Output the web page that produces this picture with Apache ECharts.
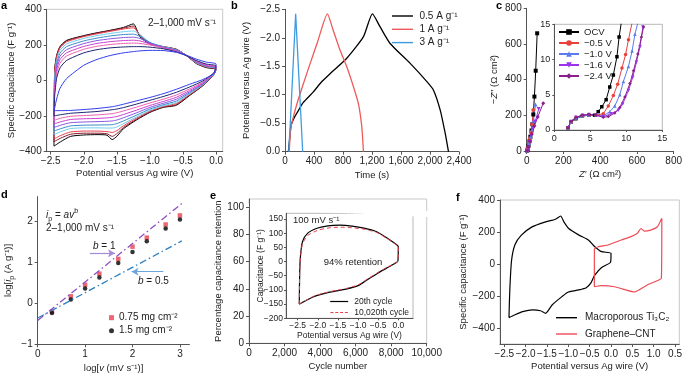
<!DOCTYPE html>
<html><head><meta charset="utf-8">
<script src="https://cdn.jsdelivr.net/npm/echarts@6/dist/echarts.min.js"></script>
<style>html,body{margin:0;padding:0;background:#fff}#c{width:685px;height:375px}</style>
</head><body><div id="c"></div>
<script>
const FONT = '"Liberation Sans", Arial, Helvetica, sans-serif';
const M = '\u2212';

// ---------- panel a : CV curves, 2 - 1000 mV/s ----------
const aPotUp = [-2.45, -2.44, -2.41, -2.36, -2.26, -2.0, -1.8, -1.6, -1.4, -1.25, -1.15, -1.0, -0.8, -0.6, -0.45, -0.3, -0.15, 0];
const aPotDown = [0, -0.03, -0.2, -0.4, -0.6, -0.8, -1.0, -1.2, -1.4, -1.5, -1.57, -1.65, -1.8, -2.0, -2.2, -2.35, -2.45];
const aCapUp = [
  [-370, 60, 140, 190, 225, 252, 268, 282, 298, 318, 245, 205, 190, 175, 140, 95, 72, 62],
  [-345, 55, 138, 188, 222, 250, 266, 280, 294, 306, 250, 207, 190, 175, 141, 97, 74, 64],
  [-330, 40, 130, 182, 217, 246, 262, 276, 289, 296, 256, 210, 190, 174, 141, 98, 76, 66],
  [-305, 15, 112, 168, 205, 236, 252, 264, 274, 278, 258, 213, 190, 172, 141, 100, 78, 68],
  [-285, -5, 95, 152, 190, 222, 238, 250, 258, 260, 248, 213, 188, 170, 141, 102, 80, 70],
  [-265, -25, 78, 135, 173, 207, 224, 234, 241, 243, 236, 210, 186, 168, 141, 105, 82, 72],
  [-245, -45, 58, 116, 155, 191, 208, 218, 224, 226, 222, 205, 184, 165, 140, 108, 85, 75],
  [-225, -65, 38, 96, 137, 175, 192, 202, 208, 210, 208, 199, 182, 163, 140, 110, 88, 78],
  [-200, -90, 12, 70, 112, 155, 173, 183, 188, 190, 190, 187, 178, 160, 139, 112, 92, 82],
  [-170, -155, -105, -45, 10, 85, 118, 140, 155, 162, 166, 169, 168, 158, 142, 120, 103, 92]
];
const aCapDown = [
  [62, 35, -30, -85, -140, -152, -180, -222, -272, -315, -333, -308, -305, -307, -315, -345, -370],
  [64, 36, -28, -82, -136, -150, -177, -218, -265, -300, -315, -300, -297, -297, -303, -325, -345],
  [66, 37, -26, -79, -130, -147, -173, -212, -255, -283, -293, -288, -285, -285, -290, -310, -330],
  [68, 38, -24, -75, -124, -143, -168, -205, -243, -262, -268, -268, -267, -267, -271, -289, -305],
  [70, 39, -21, -70, -116, -137, -161, -195, -228, -243, -249, -250, -251, -252, -256, -272, -285],
  [72, 40, -18, -64, -106, -129, -152, -182, -210, -223, -228, -230, -232, -234, -238, -252, -265],
  [75, 41, -14, -57, -95, -119, -141, -167, -192, -203, -208, -211, -214, -216, -220, -233, -245],
  [78, 42, -10, -48, -82, -106, -127, -150, -172, -182, -187, -190, -194, -198, -202, -213, -225],
  [82, 44, -3, -37, -67, -91, -112, -133, -153, -161, -165, -169, -175, -180, -185, -193, -200],
  [92, 40, 5, -22, -50, -75, -96, -115, -134, -143, -148, -152, -158, -164, -169, -170, -170]
];
const aColors = ['#000000', '#8b1a2b', '#e8414f', '#6fcff0', '#3a8cc8', '#8a55e6', '#cc3fcc', '#f060b0', '#1c2570', '#2f3cf0'];
const aXTicks = [-2.5, -2, -1.5, -1, -0.5, 0];
const aYTicks = [-400, -200, 0, 200, 400];

// ---------- panel b : GCD ----------
const bNames = ['0.5 A g\u207B\u00B9', '1 A g\u207B\u00B9', '3 A g\u207B\u00B9'];
const bBlackT = [46, 70, 83, 120, 161, 250, 391, 500, 622, 852, 1082, 1206, 1312, 1450, 1727, 1957, 2048, 2141, 2210, 2255];
const bBlackV = [0, -0.3, -0.46, -0.58, -0.67, -0.86, -1.05, -1.22, -1.37, -1.64, -2.02, -2.42, -2.19, -1.90, -1.55, -1.23, -1.08, -0.73, -0.32, 0];
const bRedT = [58, 72, 85, 160, 250, 350, 450, 585, 660, 760, 852, 944, 1013, 1059, 1082];
const bRedV = [0, -0.3, -0.45, -0.82, -1.18, -1.56, -1.93, -2.42, -2.15, -1.78, -1.49, -1.14, -0.84, -0.44, 0];
const bBlueT = [52, 62, 70, 147, 244];
const bBlueV = [0, -0.25, -0.42, -2.42, 0];
const bXTicks = [0, 400, 800, 1200, 1600, 2000, 2400];
const bYTicks = [-2.5, -2, -1.5, -1, -0.5, 0];

// ---------- panel c : Nyquist ----------
const cNames = ['OCV', M + '0.5 V', M + '1.0 V', M + '1.6 V', M + '2.4 V'];
const cColors = ['#000000', '#e8413c', '#5b7bec', '#9933ee', '#8a1f8a'];
const cSymbols = ['rect', 'circle', 'triangle', 'path://M0,0 L10,0 L5,9 Z', 'diamond'];
const cMain = [
  [[3, 2], [6, 12], [10, 30], [15, 55], [20, 80], [26, 115], [31, 150], [36, 205], [42, 305], [49, 450], [57, 660]],
  [[3, 2], [7, 15], [12, 40], [18, 70], [24, 105], [30, 150], [36, 230]],
  [[3, 2], [8, 18], [14, 45], [21, 80], [29, 120], [37, 170], [48, 260]],
  [[3, 2], [9, 20], [16, 50], [25, 85], [35, 125], [47, 165], [65, 235]],
  [[3, 2], [10, 22], [18, 55], [28, 95], [42, 140], [60, 190], [90, 268]]
];
const cInset = [
  [[1.9, 0.3], [2.3, 1.1], [3.0, 1.6], [3.9, 2.0], [4.8, 2.1], [5.6, 2.1], [6.1, 2.6], [6.6, 3.3], [7.2, 4.3], [7.7, 6.1], [8.2, 7.8], [8.7, 10.4], [9.0, 13.2], [9.3, 15.2]],
  [[1.9, 0.3], [2.3, 1.1], [3.0, 1.7], [3.9, 2.0], [4.8, 2.1], [5.8, 2.1], [6.8, 2.3], [7.5, 3.4], [8.2, 4.9], [8.8, 6.5], [9.4, 8.8], [9.9, 10.7], [10.3, 12.8], [10.8, 15.2]],
  [[1.9, 0.3], [2.3, 1.1], [3.0, 1.7], [3.9, 2.0], [4.8, 2.1], [5.8, 2.1], [6.8, 2.0], [7.7, 2.6], [8.4, 3.4], [9.1, 5.0], [9.6, 6.9], [10.3, 9.0], [10.8, 11.2], [11.2, 13.6], [11.6, 15.2]],
  [[1.9, 0.3], [2.3, 1.2], [3.0, 1.8], [3.9, 2.1], [4.8, 2.2], [5.8, 2.1], [6.8, 1.9], [7.9, 2.3], [8.9, 2.8], [9.5, 3.7], [10.3, 5.6], [10.9, 7.5], [11.4, 9.6], [11.9, 11.8], [12.3, 14.6]],
  [[1.9, 0.3], [2.3, 1.2], [3.0, 1.8], [3.9, 2.1], [4.8, 2.2], [5.8, 2.1], [6.8, 1.8], [7.5, 1.9], [8.4, 2.4], [9.1, 3.2], [9.8, 4.7], [10.5, 6.6], [11.0, 8.4], [11.6, 10.8], [12.1, 13.2], [12.4, 14.6]]
];
const cTicks = [0, 200, 400, 600, 800];
const ciTicks = [0, 5, 10, 15];

// ---------- panel d : b-value ----------
const dNames = ['0.75 mg cm\u207B\u00B2', '1.5 mg cm\u207B\u00B2'];
const dLogV = [0.301, 0.699, 1.0, 1.301, 1.699, 2.0, 2.301, 2.699, 3.0];
const dRed = [-0.20, 0.17, 0.45, 0.72, 1.08, 1.38, 1.60, 1.92, 2.14];
const dBlack = [-0.24, 0.09, 0.36, 0.63, 0.98, 1.25, 1.51, 1.82, 2.04];
const dFitB1 = [[0, -0.42], [3.07, 2.46]];
const dFitB05 = [[0, -0.36], [3.04, 1.52]];
const dXTicks = [0, 1, 2, 3];
const dYTicks = [-1, 0, 1, 2];

// ---------- panel e : cycling ----------
const eCycles = [0, 200, 400, 600, 800, 1000, 1200, 1400, 1600, 1800, 2000, 2200, 2400, 2600, 2800, 3000, 3200, 3400, 3600, 3800, 4000, 4200, 4400, 4600, 4800, 5000, 5200, 5400, 5600, 5800, 6000, 6200, 6400, 6600, 6800, 7000, 7200, 7400, 7600, 7800, 8000, 8200, 8400, 8600, 8800, 9000, 9200, 9400, 9600, 9800, 10000];
const eRetention = [100.3, 100.2, 100.1, 100.0, 99.9, 99.8, 99.8, 99.7, 99.6, 99.5, 99.4, 99.3, 99.2, 99.1, 99.0, 98.9, 98.8, 98.7, 98.6, 98.5, 98.4, 98.3, 98.2, 98.1, 98.0, 97.9, 97.8, 97.7, 97.6, 97.5, 97.4, 97.3, 97.2, 97.0, 96.9, 96.8, 96.7, 96.5, 96.4, 96.3, 96.2, 96.0, 95.9, 95.8, 95.6, 95.5, 95.4, 95.3, 95.2, 95.1, 95.0];
const eXTicks = [0, 2000, 4000, 6000, 8000, 10000];
const eYTicks = [0, 20, 40, 60, 80, 100];
const eiNames = ['20th cycle', '10,020th cycle'];
const eiPotUp = [-2.46, -2.45, -2.43, -2.38, -2.25, -2.0, -1.75, -1.45, -1.15, -0.85, -0.55, -0.3, -0.1, 0];
const eiPotDown = [0, -0.01, -0.1, -0.3, -0.5, -0.75, -1.0, -1.3, -1.7, -2.1, -2.46];
const eiCapUp20 = [-150, -40, 20, 70, 100, 118, 126, 128, 125, 118, 106, 85, 65, 52];
const eiCapDown20 = [52, 2, -8, -24, -40, -62, -85, -97, -108, -124, -150];
const eiCapUp10k = [-150, -40, 15, 62, 92, 110, 118, 121, 119, 114, 103, 83, 64, 52];
const eiCapDown10k = [52, 2, -7, -22, -38, -60, -82, -95, -106, -122, -150];
const eiXTicks = [-2.5, -2, -1.5, -1, -0.5, 0];
const eiYTicks = [-200, -150, -100, -50, 0, 50, 100, 150];

// ---------- panel f : comparison ----------
const fNames = ['Macroporous Ti\u2083C\u2082', 'Graphene\u2013CNT'];
const fTiV = [-2.39, -2.37, -2.33, -2.25, -2.1, -1.85, -1.55, -1.3, -1.18, -1.1, -0.99, -0.76, -0.53, -0.38, -0.22, 0, -0.01, -0.22, -0.38, -0.47, -0.58, -0.76, -1.0, -1.15, -1.38, -1.53, -1.65, -1.84, -2.07, -2.26, -2.39];
const fTiC = [-335, -160, 20, 120, 180, 232, 262, 280, 300, 262, 222, 182, 150, 108, 77, 67, 12, -22, -70, -118, -148, -162, -175, -204, -256, -308, -292, -287, -298, -319, -335];
const fCntV = [-0.39, -0.39, -0.3, -0.07, 0.24, 0.47, 0.62, 0.7, 0.78, 0.93, 1.09, 1.16, 1.19, 1.18, 1.12, 0.85, 0.55, 0.4, 0.08, -0.22, -0.39];
const fCntC = [-142, 92, 108, 119, 150, 171, 192, 222, 205, 212, 233, 270, 285, -89, -100, -131, -175, -166, -142, -135, -142];
const fXTicks = [-2.5, -2, -1.5, -1, -0.5, 0, 0.5, 1, 1.5];
const fXLabels = [M + '2.5', M + '2.0', M + '1.5', M + '1.0', M + '0.5', '0.0', '0.5', '1.0', '0.5'];
const fYTicks = [-400, -200, 0, 200, 400];

// ---------- helpers ----------
function num(v, d) {
  const s = d == null ? Math.abs(v).toLocaleString('en-US') : Math.abs(v).toFixed(d);
  return (v < 0 ? M : '') + s;
}
function rich(fs) {
  const base = {fontSize: fs, fontFamily: FONT, color: '#222', lineHeight: fs * 1.5};
  return {
    n: base,
    i: Object.assign({}, base, {fontStyle: 'italic'}),
    s: {fontSize: fs * 0.72, fontFamily: FONT, color: '#222', lineHeight: fs * 0.6, verticalAlign: 'bottom'},
    u: {fontSize: fs * 0.72, fontFamily: FONT, color: '#222', lineHeight: fs * 0.6, verticalAlign: 'top'}
  };
}
function axis(o) {
  const fs = o.fs || 10;
  const nfs = o.nfs || 9.5;
  return {
    type: 'value', gridIndex: o.g, min: o.min, max: o.max, inverse: !!o.inverse, z: o.z || 0,
    axisLine: {show: true, onZero: false, lineStyle: {color: '#555', width: 1}},
    axisTick: {show: true, length: o.tl || 3, customValues: o.ticks, lineStyle: {color: '#555'}},
    axisLabel: {customValues: o.ticks, formatter: o.fmt, fontSize: fs, color: '#222', margin: o.margin == null ? 5 : o.margin,
      fontFamily: FONT, hideOverlap: false, showMinLabel: true, showMaxLabel: true},
    splitLine: {show: false},
    name: o.name || '', nameLocation: 'middle', nameGap: o.gap || 20, nameRotate: o.rot, nameMoveOverlap: false,
    nameTextStyle: {fontSize: nfs, color: '#222', fontFamily: FONT, rich: rich(nfs)}
  };
}
const lineIcon = 'path://M0,0h30v2h-30z';
const dashIcon = 'path://M0,0h5v2h-5z M8,0h5v2h-5z M16,0h5v2h-5z M24,0h5v2h-5z';

// ---------- series ----------
const series = [];
aCapUp.forEach((up, i) => {
  const data = aPotUp.map((v, j) => [v, up[j]]).concat(aPotDown.slice(1).map((v, j) => [v, aCapDown[i][j + 1]]));
  series.push({type: 'line', xAxisIndex: 0, yAxisIndex: 0, data, symbol: 'none', smooth: 0.2,
    lineStyle: {color: aColors[i], width: 1}, silent: true});
});
[[bBlackT, bBlackV, '#000000', 0.2], [bRedT, bRedV, '#ee5a5a', 0.2], [bBlueT, bBlueV, '#3f9be0', 0]].forEach((s, i) => {
  series.push({type: 'line', name: bNames[i], xAxisIndex: 1, yAxisIndex: 1, data: s[0].map((t, j) => [t, s[1][j]]),
    symbol: 'none', smooth: s[3], lineStyle: {color: s[2], width: 1.3}, itemStyle: {color: s[2]}, silent: true});
});
cMain.forEach((d, i) => {
  series.push({type: 'line', name: cNames[i], xAxisIndex: 2, yAxisIndex: 2, data: d, symbol: cSymbols[i], symbolSize: 4,
    showAllSymbol: true, lineStyle: {color: cColors[i], width: 1}, itemStyle: {color: cColors[i]}, silent: true, z: 2});
});
cInset.forEach((d, i) => {
  series.push({type: 'line', name: cNames[i], xAxisIndex: 3, yAxisIndex: 3, data: d, symbol: cSymbols[i], symbolSize: 3.5,
    showAllSymbol: true, lineStyle: {color: cColors[i], width: 1}, itemStyle: {color: cColors[i]}, silent: true, z: 6});
});
series.push({type: 'line', xAxisIndex: 4, yAxisIndex: 4, data: dFitB1, symbol: 'none',
  lineStyle: {color: '#8e4fc4', width: 1.3, type: [7, 3, 1.5, 3]}, silent: true,
  markLine: {silent: true, symbol: ['none', 'arrow'], symbolSize: [6, 7], label: {show: false},
    lineStyle: {color: '#a58ad8', width: 1.2, type: 'solid'},
    data: [[{coord: [1.1, 1.22]}, {coord: [1.63, 1.22]}]]}});
series.push({type: 'line', xAxisIndex: 4, yAxisIndex: 4, data: dFitB05, symbol: 'none',
  lineStyle: {color: '#2c7fbf', width: 1.3, type: [7, 3, 1.5, 3]}, silent: true,
  markLine: {silent: true, symbol: ['none', 'arrow'], symbolSize: [6, 7], label: {show: false},
    lineStyle: {color: '#6aa6dc', width: 1.2, type: 'solid'},
    data: [[{coord: [2.65, 0.77]}, {coord: [1.98, 0.77]}]]}});
series.push({type: 'scatter', name: dNames[0], xAxisIndex: 4, yAxisIndex: 4, data: dLogV.map((x, j) => [x, dRed[j]]),
  symbol: 'rect', symbolSize: 4.5, itemStyle: {color: '#e8414f'}, silent: true});
series.push({type: 'scatter', name: dNames[1], xAxisIndex: 4, yAxisIndex: 4, data: dLogV.map((x, j) => [x, dBlack[j]]),
  symbol: 'circle', symbolSize: 4.5, itemStyle: {color: '#000'}, silent: true});
series.push({type: 'line', xAxisIndex: 5, yAxisIndex: 5, data: eCycles.map((c, j) => [c, eRetention[j]]),
  symbol: 'emptyCircle', symbolSize: 4, showAllSymbol: true, lineStyle: {width: 0},
  itemStyle: {color: '#fff', borderColor: '#333', borderWidth: 0.8}, silent: true});
series.push({type: 'line', name: eiNames[0], xAxisIndex: 6, yAxisIndex: 6, z: 6,
  data: eiPotUp.map((v, j) => [v, eiCapUp20[j]]).concat(eiPotDown.slice(1).map((v, j) => [v, eiCapDown20[j + 1]])),
  symbol: 'none', smooth: 0.25, lineStyle: {color: '#000', width: 1.2}, itemStyle: {color: '#000'}, silent: true});
series.push({type: 'line', name: eiNames[1], xAxisIndex: 6, yAxisIndex: 6, z: 6,
  data: eiPotUp.map((v, j) => [v, eiCapUp10k[j]]).concat(eiPotDown.slice(1).map((v, j) => [v, eiCapDown10k[j + 1]])),
  symbol: 'none', smooth: 0.25, lineStyle: {color: '#e8414f', width: 1, type: [4, 3]}, itemStyle: {color: '#e8414f'}, silent: true});
series.push({type: 'line', name: fNames[0], xAxisIndex: 7, yAxisIndex: 7, data: fTiV.map((v, j) => [v, fTiC[j]]),
  symbol: 'none', smooth: 0.2, lineStyle: {color: '#000', width: 1.2}, itemStyle: {color: '#000'}, silent: true});
series.push({type: 'line', name: fNames[1], xAxisIndex: 7, yAxisIndex: 7, data: fCntV.map((v, j) => [v, fCntC[j]]),
  symbol: 'none', smooth: 0.15, lineStyle: {color: '#ee4a55', width: 1.2}, itemStyle: {color: '#ee4a55'}, silent: true});

const frame = {show: true, borderColor: '#c8c8c8', borderWidth: 1, backgroundColor: 'transparent'};
const legText = (fs) => ({fontSize: fs, lineHeight: fs, fontFamily: FONT, color: '#222'});

const option = {
  animation: false,
  backgroundColor: '#fff',
  grid: [
    Object.assign({left: 46.7, top: 9.3, width: 176, height: 142.2}, frame),
    {left: 285, top: 9.3, width: 174, height: 142.4},
    {left: 526.7, top: 8.3, width: 150, height: 142.7},
    {left: 554.3, top: 24.3, width: 108, height: 105.7, show: true, borderColor: '#b8b8b8', borderWidth: 1, backgroundColor: '#fff', z: 3},
    {left: 37.7, top: 196.6, width: 151.7, height: 147.7},
    Object.assign({left: 249, top: 199, width: 177.7, height: 144.3}, frame),
    {left: 286, top: 213.3, width: 127, height: 105, show: true, borderColor: '#b8b8b8', borderWidth: 1, backgroundColor: '#fff', z: 3},
    Object.assign({left: 500, top: 200, width: 183, height: 144}, frame)
  ],
  xAxis: [
    axis({g: 0, min: -2.56, max: 0.1, ticks: aXTicks, fmt: v => num(v, 1), name: 'Potential versus Ag wire (V)', gap: 17}),
    axis({g: 1, min: 0, max: 2400, ticks: bXTicks, fmt: v => num(v), name: 'Time (s)', gap: 19}),
    axis({g: 2, min: 0, max: 800, ticks: cTicks, fmt: v => num(v), name: '{i|Z}{n|\u2032 (\u03A9 cm\u00B2)}', gap: 16}),
    axis({g: 3, min: 0, max: 15, ticks: ciTicks, fmt: v => num(v), fs: 9, margin: 4, tl: 2, z: 4}),
    axis({g: 4, min: 0, max: 3.2, ticks: dXTicks, fmt: v => num(v), name: '{n|log[}{i|v}{n| (mV s\u207B\u00B9)]}', gap: 17}),
    axis({g: 5, min: 0, max: 10000, ticks: eXTicks, fmt: v => num(v), name: 'Cycle number', gap: 18, z: 5}),
    axis({g: 6, min: -2.79, max: 0.365, ticks: eiXTicks, fmt: v => num(v, 1), fs: 8.5, nfs: 8.5, margin: 3, tl: 2, z: 4, name: 'Potential versus Ag wire (V)', gap: 13}),
    axis({g: 7, min: -2.6, max: 1.6, ticks: fXTicks, fmt: v => fXLabels[fXTicks.findIndex(t => Math.abs(t - v) < 1e-6)], name: 'Potential versus Ag wire (V)', gap: 17})
  ],
  yAxis: [
    axis({g: 0, min: -400, max: 400, ticks: aYTicks, fmt: v => num(v), name: 'Specific capacitance (F g\u207B\u00B9)', gap: 30}),
    axis({g: 1, min: -2.5, max: 0, inverse: true, ticks: bYTicks, fmt: v => num(v, 1), name: 'Potential versus Ag wire (V)', gap: 34}),
    axis({g: 2, min: 0, max: 800, ticks: cTicks, fmt: v => num(v), name: '{n|\u2212}{i|Z}{n|\u2033 (\u03A9 cm\u00B2)}', gap: 25}),
    axis({g: 3, min: 0, max: 15, ticks: ciTicks, fmt: v => num(v), fs: 9, margin: 4, tl: 2, z: 4}),
    axis({g: 4, min: -1, max: 2.6, ticks: dYTicks, fmt: v => num(v), name: '{n|log[}{i|i}{s|p}{n| (A g\u207B\u00B9)]}', gap: 22}),
    axis({g: 5, min: 0, max: 106, ticks: eYTicks, fmt: v => num(v), name: 'Percentage capacitance retention', gap: 26, z: 5}),
    axis({g: 6, min: -200, max: 170, ticks: eiYTicks, fmt: v => num(v), fs: 8.5, nfs: 8.5, margin: 3, tl: 2, z: 4, name: 'Capacitance (F g\u207B\u00B9)', gap: 21}),
    axis({g: 7, min: -500, max: 400, ticks: fYTicks, fmt: v => num(v), name: 'Specific capacitance (F g\u207B\u00B9)', gap: 32})
  ],
  legend: [
    {data: bNames.map(n => ({name: n, icon: lineIcon})), orient: 'vertical', align: 'left', left: 392, top: 11, itemWidth: 24, itemHeight: 1.4, itemGap: 3.3, padding: 0, selectedMode: false, textStyle: legText(10)},
    {data: cNames, orient: 'vertical', align: 'left', left: 558, top: 27, itemWidth: 20, itemHeight: 7, itemGap: 1, padding: 0, selectedMode: false, z: 7, textStyle: legText(9.5)},
    {data: dNames, orient: 'vertical', align: 'left', left: 109, top: 312.7, itemWidth: 5, itemHeight: 5, itemGap: 3, padding: 0, selectedMode: false, textStyle: legText(10)},
    {data: [{name: eiNames[0], icon: lineIcon}, {name: eiNames[1], icon: dashIcon}], orient: 'vertical', align: 'left', right: 276, top: 297, itemWidth: 20, itemHeight: 1.2, itemGap: 2, padding: 0, selectedMode: false, z: 7, textStyle: legText(8.5)},
    {data: fNames.map(n => ({name: n, icon: lineIcon})), orient: 'vertical', align: 'left', left: 556, top: 312.7, itemWidth: 27, itemHeight: 1.4, itemGap: 6.3, padding: 0, selectedMode: false, textStyle: legText(10)}
  ],
  graphic: [
    {type: 'text', left: 1, top: 0, style: {text: 'a', font: 'bold 11px ' + FONT, fill: '#000'}},
    {type: 'text', left: 231, top: 0, style: {text: 'b', font: 'bold 11px ' + FONT, fill: '#000'}},
    {type: 'text', left: 496, top: 0, style: {text: 'c', font: 'bold 11px ' + FONT, fill: '#000'}},
    {type: 'text', left: 1, top: 189, style: {text: 'd', font: 'bold 11px ' + FONT, fill: '#000'}},
    {type: 'text', left: 210, top: 190, style: {text: 'e', font: 'bold 11px ' + FONT, fill: '#000'}},
    {type: 'text', left: 456, top: 192, style: {text: 'f', font: 'bold 11px ' + FONT, fill: '#000'}},
    {type: 'text', x: 216, y: 23, style: {text: '2\u20131,000 mV s\u207B\u00B9', font: '10px ' + FONT, fill: '#222', textAlign: 'right', textVerticalAlign: 'middle'}},
    {type: 'text', x: 46, y: 215, style: {text: '{i|i}{s|p}{n| = }{i|av}{u|b}', rich: rich(10), fill: '#222', textVerticalAlign: 'middle'}},
    {type: 'text', x: 46, y: 228, style: {text: '2\u20131,000 mV s\u207B\u00B9', font: '10px ' + FONT, fill: '#222', textVerticalAlign: 'middle'}},
    {type: 'text', x: 93, y: 246, style: {text: '{i|b}{n| = 1}', rich: rich(10), fill: '#222', textVerticalAlign: 'middle'}},
    {type: 'text', x: 138, y: 281, style: {text: '{i|b}{n| = 0.5}', rich: rich(10), fill: '#222', textVerticalAlign: 'middle'}},
    {type: 'text', x: 293, y: 220, z: 10, style: {text: '100 mV s\u207B\u00B9', font: '9.5px ' + FONT, fill: '#222', textVerticalAlign: 'middle'}},
    {type: 'text', x: 353, y: 262, z: 10, style: {text: '94% retention', font: '9.5px ' + FONT, fill: '#222', textAlign: 'center', textVerticalAlign: 'middle'}}
  ],
  series
};
const chart = echarts.init(document.getElementById('c'), null, {renderer: 'canvas'});
chart.setOption(option);
</script></body></html>
